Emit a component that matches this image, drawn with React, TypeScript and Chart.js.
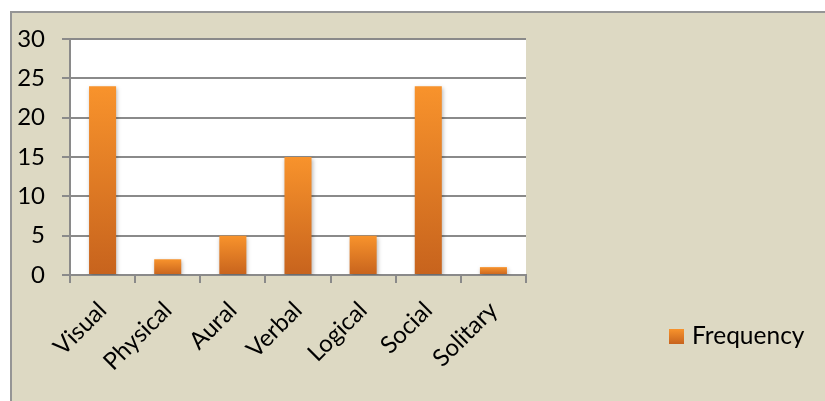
import React, { useEffect, useRef } from "react";
import { Chart, registerables } from "chart.js";

Chart.register(...registerables);

const categories = ["Visual", "Physical", "Aural", "Verbal", "Logical", "Social", "Solitary"];
const frequency = [24, 2, 5, 15, 5, 24, 1];
const seriesName = "Frequency";
const yTicks = [0, 5, 10, 15, 20, 25, 30];

const FONT = "Lato, 'Open Sans', sans-serif";
const GRID = "#8a8a8a";
const TOP_COLOR = "#F8932C";
const BOTTOM_COLOR = "#C7631D";

export default function App() {
  const ref = useRef<HTMLCanvasElement | null>(null);

  useEffect(() => {
    const canvas = ref.current;
    if (!canvas) return;

    const shadowPlugin = {
      id: "barShadow",
      beforeDatasetsDraw(chart: any) {
        const ctx = chart.ctx;
        ctx.save();
        ctx.shadowColor = "rgba(0,0,0,0.28)";
        ctx.shadowBlur = 4;
        ctx.shadowOffsetX = 1;
        ctx.shadowOffsetY = 2;
      },
      afterDatasetsDraw(chart: any) {
        chart.ctx.restore();
      },
    };

    const legendPlugin = {
      id: "customLegend",
      afterDraw(chart: any) {
        const ctx = chart.ctx;
        ctx.save();
        const x = 669, y = 329, s = 15;
        const g = ctx.createLinearGradient(0, y, 0, y + s);
        g.addColorStop(0, TOP_COLOR);
        g.addColorStop(1, BOTTOM_COLOR);
        ctx.fillStyle = g;
        ctx.fillRect(x, y, s, s);
        ctx.fillStyle = "#000";
        ctx.font = `24.5px ${FONT}`;
        ctx.textBaseline = "alphabetic";
        ctx.textAlign = "left";
        ctx.fillText(seriesName, 692, 344);
        ctx.restore();
      },
    };

    const chart = new Chart(canvas, {
      type: "bar",
      data: {
        labels: categories,
        datasets: [
          {
            label: seriesName,
            data: frequency,
            categoryPercentage: 1,
            barPercentage: 0.415,
            borderWidth: 0,
            backgroundColor: (c: any) => {
              const chartRef = c.chart;
              const ys = chartRef.scales && chartRef.scales.y;
              if (!ys || c.raw == null) return TOP_COLOR;
              const top = ys.getPixelForValue(c.raw);
              const bottom = ys.getPixelForValue(0);
              if (!isFinite(top) || !isFinite(bottom) || top === bottom) return TOP_COLOR;
              const g = chartRef.ctx.createLinearGradient(0, top, 0, bottom);
              g.addColorStop(0, TOP_COLOR);
              g.addColorStop(1, BOTTOM_COLOR);
              return g;
            },
          },
        ],
      },
      options: {
        animation: false,
        responsive: false,
        maintainAspectRatio: false,
        layout: { padding: { left: 0, top: 39, right: 299, bottom: 0 } },
        plugins: {
          legend: { display: false },
          tooltip: { enabled: false },
          title: { display: false },
        },
        scales: {
          x: {
            grid: {
              display: true,
              drawOnChartArea: false,
              drawTicks: true,
              tickLength: 8,
              color: GRID,
              lineWidth: 2,
              offset: true,
            },
            border: { display: true, color: GRID, width: 2 },
            ticks: {
              color: "#000",
              font: { family: FONT, size: 24 },
              minRotation: 45,
              maxRotation: 45,
              padding: 13,
              autoSkip: false,
            },
            afterFit: (scale: any) => {
              scale.height = 401 - 275;
            },
          },
          y: {
            min: 0,
            max: 30,
            afterBuildTicks: (scale: any) => {
              scale.ticks = yTicks.map((v) => ({ value: v }));
            },
            grid: {
              color: GRID,
              lineWidth: 2,
              tickLength: 8,
              drawTicks: true,
            },
            border: { display: true, color: GRID, width: 2 },
            ticks: {
              color: "#000",
              font: { family: FONT, size: 24 },
              padding: 17,
            },
            afterFit: (scale: any) => {
              scale.width = 70;
            },
          },
        },
      },
      plugins: [shadowPlugin, legendPlugin],
    });

    return () => chart.destroy();
  }, []);

  return (
    <div style={{ position: "absolute", left: 0, top: 0, width: 825, height: 401, overflow: "hidden", background: "#fff" }}>
      <div
        style={{
          position: "absolute",
          left: 10,
          top: 11,
          width: 830,
          height: 410,
          background: "#DDD9C3",
          borderLeft: "2px solid #959595",
          borderTop: "2px solid #959595",
          boxSizing: "border-box",
        }}
      />
      <div style={{ position: "absolute", left: 70, top: 39, width: 456, height: 236, background: "#fff" }} />
      <canvas ref={ref} width={825} height={401} style={{ position: "absolute", left: 0, top: 0, width: 825, height: 401 }} />
    </div>
  );
}
